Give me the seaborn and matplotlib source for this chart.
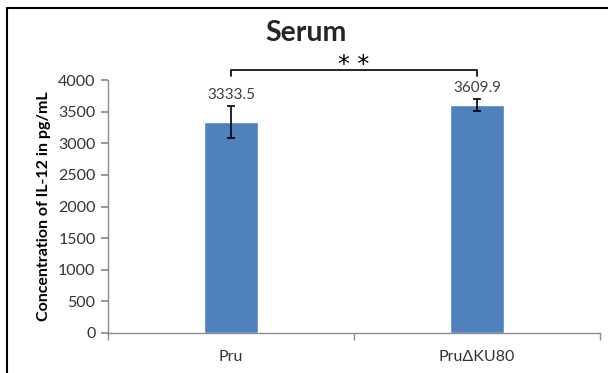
import matplotlib
matplotlib.use("Agg")
import matplotlib.pyplot as plt
import seaborn as sns
import pandas as pd
from matplotlib.lines import Line2D

categories = ["Pru", "Pru\u0394KU80"]
values = [3333.5, 3609.9]
errors = [253, 95]
value_labels = ["3333.5", "3609.9"]
yticks = [0, 500, 1000, 1500, 2000, 2500, 3000, 3500, 4000]

sns.set_theme(style="white")
plt.rcParams['font.family'] = ['Lato', 'DejaVu Sans']

df = pd.DataFrame({"group": categories, "value": values})

fig = plt.figure(figsize=(6.08, 3.73), dpi=100)
ax = fig.add_axes([108/608, 1-333/373, (600-108)/608, (333-80)/373])

sns.barplot(data=df, x="group", y="value", color="#4F81BD", saturation=1,
            width=0.222, errorbar=None, ax=ax)
ax.errorbar(range(len(categories)), values, yerr=errors, fmt="none",
            ecolor="black", elinewidth=1.2, capsize=3, capthick=1.2, zorder=5)

for i, (v, e, lab) in enumerate(zip(values, errors, value_labels)):
    ax.text(i, v + e + 60, lab, ha="center", va="bottom", fontsize=11, color="#404040")

ax.set_xlim(-0.5, 1.5)
ax.set_ylim(0, 4000)
ax.set_yticks(yticks)
ax.set_yticklabels([str(t) for t in yticks], fontsize=11.5, color="#333333")
ax.set_xticks([0, 1])
ax.set_xticklabels(categories, fontsize=11.5, color="#333333")
ax.set_xlabel("")
ax.set_ylabel("Concentration of IL-12 in pg/mL", fontsize=11.5, fontweight="bold",
              color="black", labelpad=5)

for s in ["top", "right"]:
    ax.spines[s].set_visible(False)
for s in ["left", "bottom"]:
    ax.spines[s].set_color("#8c8c8c")
    ax.spines[s].set_linewidth(1)

ax.tick_params(axis="y", which="both", left=True, length=5, color="#8c8c8c", pad=4)
ax.tick_params(axis="x", which="both", bottom=False, pad=6)
# category boundary ticks on x-axis
ax.set_xticks([-0.5, 0.5, 1.5], minor=True)
ax.tick_params(axis="x", which="minor", bottom=True, length=5, color="#8c8c8c")

# significance bracket
ax.plot([0, 0, 1, 1], [4065, 4160, 4160, 4065], color="black", lw=1.2, clip_on=False)
ax.text(0.5, 4130, "* *", ha="center", va="baseline", fontsize=17,
        family="DejaVu Sans", color="black")

fig.text(306/608, 1-33/373, "Serum", ha="center", va="center", fontsize=20.5, fontweight="bold")

# figure border (left and top visible)
fig.add_artist(Line2D([7/608, 7/608], [0, 1-8/373], transform=fig.transFigure, color="black", lw=1.5))
fig.add_artist(Line2D([7/608, 1], [1-8/373, 1-8/373], transform=fig.transFigure, color="black", lw=1.5))

fig.savefig("out.png", dpi=100)
